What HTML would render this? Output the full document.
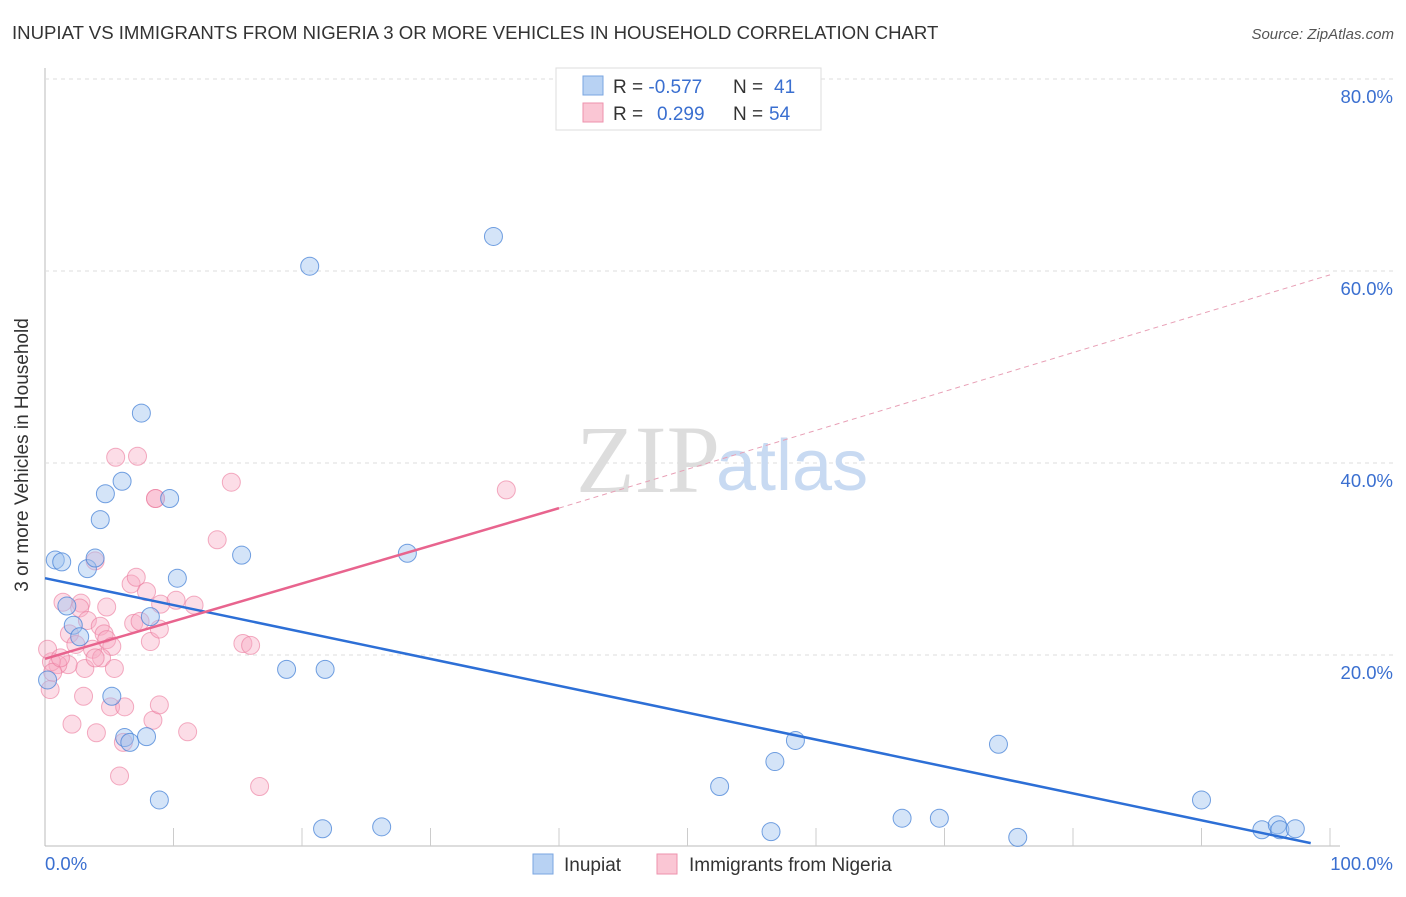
<!DOCTYPE html>
<html><head><meta charset="utf-8"><style>
body{margin:0;background:#fff;font-family:"Liberation Sans",sans-serif}
</style></head><body>
<svg width="1406" height="892" xmlns="http://www.w3.org/2000/svg" font-family="Liberation Sans, sans-serif">
<text x="12" y="39" font-size="18.6" fill="#333">INUPIAT VS IMMIGRANTS FROM NIGERIA 3 OR MORE VEHICLES IN HOUSEHOLD CORRELATION CHART</text>
<text x="1394" y="39" font-size="15" fill="#555" font-style="italic" text-anchor="end">Source: ZipAtlas.com</text>
<g id="grid"></g>
<text x="720" y="492" font-size="96" fill="#ddd" text-anchor="end" font-family="Liberation Serif, serif">ZIP</text>
<text x="716" y="490" font-size="72" fill="#c8daf2">atlas</text>
<g id="marks"></g>
<text x="28" y="455" font-size="19" fill="#333" text-anchor="middle" transform="rotate(-90 28 455)">3 or more Vehicles in Household</text>
<g>
<rect x="556" y="68" width="265" height="62" fill="#fff" stroke="#ddd"/>
<rect x="583" y="76" width="20" height="19" fill="#b8d2f3" stroke="#7aa6e0"/>
<rect x="583" y="103" width="20" height="19" fill="#fac6d4" stroke="#ee92ad"/>
<text x="613" y="93" font-size="19" fill="#333">R = <tspan fill="#3a6fd0">-0.577</tspan><tspan x="733">N = </tspan><tspan x="774" fill="#3a6fd0">41</tspan></text>
<text x="613" y="120" font-size="19" fill="#333">R = <tspan x="657" fill="#3a6fd0">0.299</tspan><tspan x="733">N = </tspan><tspan x="769" fill="#3a6fd0">54</tspan></text>
</g>
<g>
<rect x="533" y="854" width="20" height="20" fill="#b8d2f3" stroke="#7aa6e0"/>
<text x="564" y="871" font-size="19" fill="#333">Inupiat</text>
<rect x="657" y="854" width="20" height="20" fill="#fac6d4" stroke="#ee92ad"/>
<text x="689" y="871" font-size="19" fill="#333">Immigrants from Nigeria</text>
</g>
</svg>
<script>
const yTicks=[20,40,60,80];
const xTickLabels=["0.0%","100.0%"];
const blueX=[0.8,1.3,1.7,2.2,2.7,3.3,3.9,4.3,4.7,5.2,6.0,6.2,6.6,7.5,7.9,8.2,8.9,9.7,10.3,15.3,18.8,20.6,21.6,21.8,26.2,28.2,34.9,52.5,56.5,56.8,58.4,66.7,69.6,74.2,75.7,90.0,94.7,95.9,96.1,97.3,0.2];
const blueY=[29.9,29.7,25.1,23.1,21.9,29.0,30.1,34.1,36.8,15.7,38.1,11.4,10.9,45.2,11.5,24.0,4.9,36.3,28.0,30.4,18.5,60.5,1.9,18.5,2.1,30.6,63.6,6.3,1.6,8.9,11.1,3.0,3.0,10.7,1.0,4.9,1.8,2.3,1.8,1.9,17.4];
const pinkX=[5.5,7.2,8.6,8.6,14.5,13.4,35.9,15.4,16.0,6.7,7.1,7.9,3.9,1.4,2.8,2.7,1.9,3.3,4.3,4.6,4.8,5.2,3.7,4.4,5.4,6.9,7.4,8.2,8.9,4.8,3.1,3.9,1.8,1.0,0.5,0.2,0.4,0.6,3.0,2.1,4.0,5.1,6.2,8.4,11.1,6.1,8.9,5.8,16.7,9.0,11.6,10.2,2.4,1.2];
const pinkY=[40.6,40.7,36.3,36.3,38.0,32.0,37.2,21.2,21.0,27.4,28.1,26.6,29.8,25.5,25.4,24.9,22.2,23.6,23.0,22.2,21.6,20.9,20.6,19.7,18.6,23.3,23.5,21.4,22.7,25.0,18.6,19.7,19.0,19.0,19.3,20.6,16.4,18.2,15.7,12.8,11.9,14.6,14.6,13.2,12.0,10.9,14.8,7.4,6.3,25.3,25.2,25.7,21.1,19.7];
const NS='http://www.w3.org/2000/svg';
const X=v=>45+v*12.85, Y=v=>847-v*9.6;
const grid=document.getElementById('grid'), marks=document.getElementById('marks');
function mk(tag,attrs,parent){const e=document.createElementNS(NS,tag);for(const k in attrs)e.setAttribute(k,attrs[k]);parent.appendChild(e);return e;}
let ax=mk('line',{x1:45,y1:68,x2:45,y2:846,stroke:'#bbb'},grid);


let bx=mk('line',{x1:45,y1:846,x2:1340,y2:846,stroke:'#bbb'},grid);


for(let i=1;i<=10;i++){const t=mk('line',{x1:X(i*10),y1:828,x2:X(i*10),y2:846,stroke:'#ccc'},grid);

}
yTicks.forEach(v=>{const l=mk('line',{x1:45,y1:Y(v),x2:1395,y2:Y(v),stroke:'#ddd','stroke-dasharray':'4,4'},grid);


const t=mk('text',{x:1393,y:Y(v)+24,'font-size':18.5,fill:'#3a6fd0','text-anchor':'end'},grid);t.textContent=v.toFixed(1)+'%';

});
xTickLabels.forEach((s,i)=>{const t=mk('text',{x:i?1393:45,y:870,'font-size':18.5,fill:'#3a6fd0','text-anchor':i?'end':'start'},grid);t.textContent=s;

});
pinkX.forEach((x,i)=>{const c=mk('circle',{cx:X(x),cy:Y(pinkY[i]),r:9,fill:'rgba(248,170,195,0.4)',stroke:'rgba(235,120,155,0.6)','stroke-width':1},marks);

});
blueX.forEach((x,i)=>{const c=mk('circle',{cx:X(x),cy:Y(blueY[i]),r:9,fill:'rgba(160,195,240,0.45)',stroke:'rgba(70,130,215,0.75)','stroke-width':1},marks);

});
let bl=mk('line',{x1:X(0),y1:Y(28.0),x2:X(98.5),y2:Y(0.4),stroke:'#2d6fd6','stroke-width':2.5},marks);


let pl=mk('line',{x1:X(0),y1:Y(19.6),x2:X(40),y2:Y(35.3),stroke:'#e8648e','stroke-width':2.5},marks);


let pd=mk('line',{x1:X(40),y1:Y(35.3),x2:X(100),y2:Y(59.6),stroke:'#e8a0b6','stroke-width':1,'stroke-dasharray':'5,4'},marks);


</script>
</body></html>
